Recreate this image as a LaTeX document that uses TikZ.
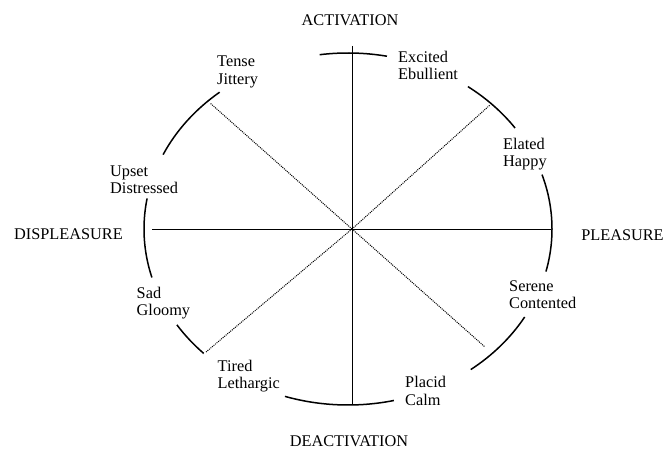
\documentclass[tikz,border=0pt]{standalone}
\usepackage{fontspec}
\setmainfont{Liberation Serif}
\usepackage{tikz}
\usetikzlibrary{calc}

\begin{document}
\begin{tikzpicture}[x=1pt, y=1pt,
  mood/.style={anchor=west, align=left, inner sep=0pt, font=\fontsize{16.3}{17.2}\selectfont},
  pole/.style={inner sep=0pt, font=\fontsize{16.3}{17.2}\selectfont},
  rim/.style={line width=1.5pt},
  axis/.style={line width=0.9pt},
  diag/.style={line width=1pt, densely dotted}]
  \useasboundingbox (0,0) rectangle (665,450);

  % centre of the axes and of the rim
  \coordinate (O) at (352,221);
  \coordinate (E) at (348,221);

  % axis ends
  \coordinate (N) at (352,404);
  \coordinate (S) at (352,46);
  \coordinate (W) at (152,221);
  \coordinate (Ea) at (551,221);

  % ends of the dotted diagonals
  \coordinate (NE) at (490,345);
  \coordinate (NW) at (210,347);
  \coordinate (SW) at (206,98);
  \coordinate (SE) at (485,103);

  % pole labels
  \node (Act) [pole] at (350,430) {ACTIVATION};
  \node (Deact) [pole] at (349,9) {DEACTIVATION};
  \node (Displ) [pole] at (68.5,216) {DISPLEASURE};
  \node (Pleas) [pole] at (622.5,215) {PLEASURE};

  % mood labels
  \node (Tense) [mood] at (217,378) {Tense\\Jittery};
  \node (Excited) [mood] at (398,384.5) {Excited\\Ebullient};
  \node (Elated) [mood] at (503,296) {Elated\\Happy};
  \node (Upset) [mood] at (110,270.5) {Upset\\Distressed};
  \node (Sad) [mood] at (136.5,147) {Sad\\Gloomy};
  \node (Tired) [mood] at (217.5,74) {Tired\\Lethargic};
  \node (Placid) [mood] at (405,59) {Placid\\Calm};
  \node (Serene) [mood] at (509,155.5) {Serene\\Contented};

  % axes
  \path [-] [axis]
  (N) edge (S)
  (W) edge (Ea);

  % diagonals
  \path [-] [diag]
  (O) edge (NE)
  (O) edge (NW)
  (O) edge (SW)
  (O) edge (SE);

  % rim pieces
  \draw [rim] ($(E)+(79:204pt and 176pt)$) arc[start angle=79, end angle=98, x radius=204pt, y radius=176pt];
  \draw [rim] ($(E)+(35:204pt and 176pt)$) arc[start angle=35, end angle=54, x radius=204pt, y radius=176pt];
  \draw [rim] ($(E)+(-14:204pt and 176pt)$) arc[start angle=-14, end angle=18, x radius=204pt, y radius=176pt];
  \draw [rim] ($(E)+(-53:204pt and 176pt)$) arc[start angle=-53, end angle=-30, x radius=204pt, y radius=176pt];
  \draw [rim] ($(E)+(252:204pt and 176pt)$) arc[start angle=252, end angle=283, x radius=204pt, y radius=176pt];
  \draw [rim] ($(E)+(213:204pt and 176pt)$) arc[start angle=213, end angle=225, x radius=204pt, y radius=176pt];
  \draw [rim] ($(E)+(170:204pt and 176pt)$) arc[start angle=170, end angle=196, x radius=204pt, y radius=176pt];
  \draw [rim] ($(E)+(129:204pt and 176pt)$) arc[start angle=129, end angle=155, x radius=204pt, y radius=176pt];
\end{tikzpicture}
\end{document}
